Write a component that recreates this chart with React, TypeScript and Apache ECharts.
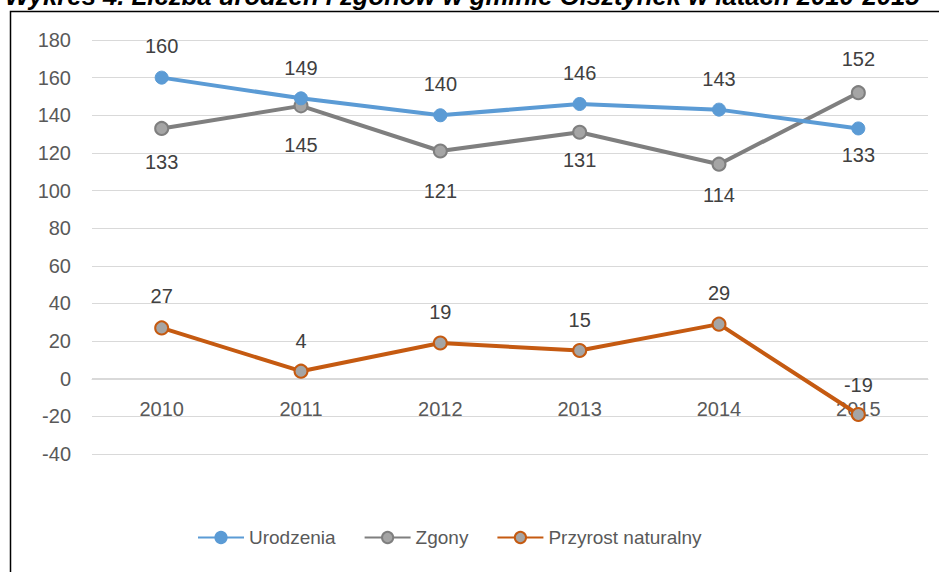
import React, { useEffect, useRef } from "react";
import * as echarts from "echarts";

const years = ["2010", "2011", "2012", "2013", "2014", "2015"];
const urodzenia = [160, 149, 140, 146, 143, 133];
const zgony = [133, 145, 121, 131, 114, 152];
const przyrost = [27, 4, 19, 15, 29, -19];

// label placement per point (Excel-style manual placement)
const urodzeniaLabelPos = ["top", "top", "top", "top", "top", "bottom"];
const urodzeniaLabelDist = [15, 13, 14, 14, 14, 10];
const zgonyLabelPos = ["bottom", "bottom", "bottom", "bottom", "bottom", "top"];
const zgonyLabelDist = [16, 22, 22, 10, 13, 16];
const przyrostLabelDist = [14, 13, 13, 13, 14, 12];

const TITLE = "Wykres 4. Liczba urodzeń i zgonów w gminie Olsztynek w latach 2010-2015";
const FONT = "'Liberation Sans', Arial, sans-serif";

export default function App() {
  const ref = useRef<HTMLDivElement>(null);
  useEffect(() => {
    if (!ref.current) return;
    const chart = echarts.init(ref.current, undefined, { renderer: "svg" });
    const lbl = { color: "#404040", fontSize: 20, fontFamily: FONT };
    chart.setOption({
      animation: false,
      backgroundColor: "#ffffff",
      textStyle: { fontFamily: FONT },
      graphic: [
        {
          type: "text",
          style: {
            x: 5,
            y: 9,
            verticalAlign: "bottom",
            text: TITLE,
            font: `italic bold 25.7px ${FONT}`,
            fill: "#000000",
          },
        },
        {
          type: "rect",
          shape: { x: 10.5, y: 11.5, width: 1000, height: 1000 },
          style: { fill: "none", stroke: "#000000", lineWidth: 1.5 },
          silent: true,
          z: -1,
        },
      ],
      grid: { left: 92, right: 11, top: 40, bottom: 118, containLabel: false },
      legend: {
        top: 523,
        left: 192,
        itemWidth: 46,
        itemHeight: 14,
        itemGap: 28,
        textStyle: { color: "#595959", fontSize: 19, fontFamily: FONT },
        data: ["Urodzenia", "Zgony", "Przyrost naturalny"],
      },
      xAxis: {
        type: "category",
        data: years,
        boundaryGap: true,
        offset: -75,
        axisLine: { onZero: false, lineStyle: { color: "#d9d9d9", width: 1 } },
        axisTick: { show: false },
        axisLabel: { color: "#595959", fontSize: 20, fontFamily: FONT, margin: 20 },
      },
      yAxis: {
        type: "value",
        min: -40,
        max: 180,
        interval: 20,
        axisLine: { show: false },
        axisTick: { show: false },
        axisLabel: { color: "#595959", fontSize: 20, fontFamily: FONT, margin: 21 },
        splitLine: { lineStyle: { color: "#d9d9d9", width: 1 } },
      },
      series: [
        {
          name: "Urodzenia",
          type: "line",
          symbol: "circle",
          symbolSize: 13,
          lineStyle: { color: "#5b9bd5", width: 4 },
          itemStyle: { color: "#5b9bd5", borderColor: "#5b9bd5", borderWidth: 1 },
          data: urodzenia.map((v, i) => ({
            value: v,
            label: { show: true, position: urodzeniaLabelPos[i], distance: urodzeniaLabelDist[i], ...lbl },
          })),
          z: 3,
        },
        {
          name: "Zgony",
          type: "line",
          symbol: "circle",
          symbolSize: 13,
          lineStyle: { color: "#7f7f7f", width: 4 },
          itemStyle: { color: "#a5a5a5", borderColor: "#7f7f7f", borderWidth: 2 },
          data: zgony.map((v, i) => ({
            value: v,
            label: { show: true, position: zgonyLabelPos[i], distance: zgonyLabelDist[i], ...lbl },
          })),
          z: 2,
        },
        {
          name: "Przyrost naturalny",
          type: "line",
          symbol: "circle",
          symbolSize: 13,
          lineStyle: { color: "#c55a11", width: 4 },
          itemStyle: { color: "#a5a5a5", borderColor: "#c55a11", borderWidth: 2 },
          data: przyrost.map((v, i) => ({
            value: v,
            label: { show: true, position: "top", distance: przyrostLabelDist[i], ...lbl },
          })),
          z: 2,
        },
      ],
    });
    return () => chart.dispose();
  }, []);
  return (
    <div
      ref={ref}
      style={{ position: "fixed", left: 0, top: 0, width: 939, height: 572 }}
    />
  );
}
